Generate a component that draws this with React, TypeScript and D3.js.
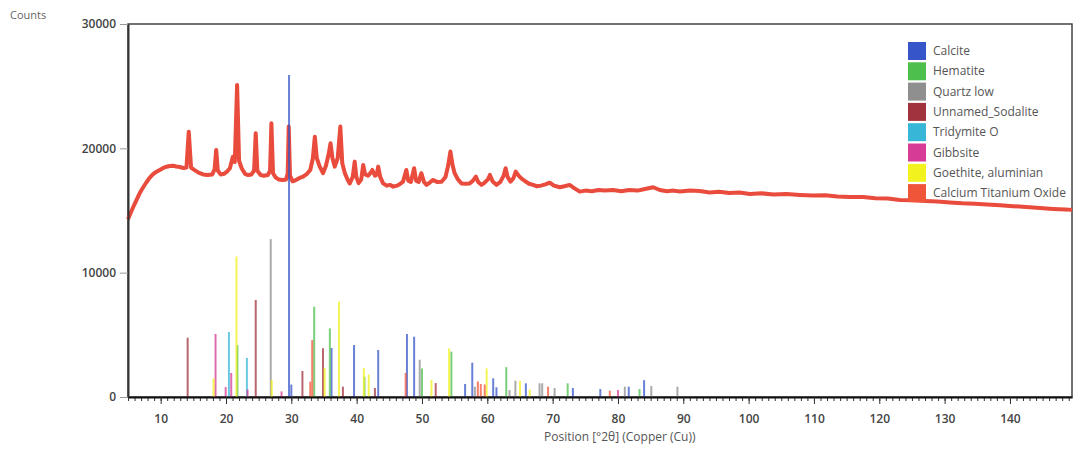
//@ts-nocheck
import React, { useRef, useEffect } from 'react'
import * as d3 from 'd3'

// measured scan (2θ, counts)
const scanPoints = [
  [5.0, 14300], [5.4, 14800], [5.9, 15400], [6.4, 15950], [6.8, 16400], [7.3, 16850], [7.8, 17250],
  [8.3, 17620], [8.8, 17900], [9.3, 18100], [9.85, 18260], [10.4, 18420], [10.9, 18520], [11.4, 18580],
  [11.9, 18600], [12.4, 18540], [12.9, 18500], [13.5, 18420], [13.95, 18450], [14.3, 21340], [14.65, 18450],
  [15.2, 18250], [15.8, 18050], [16.5, 17900], [17.2, 17850], [17.9, 17900], [18.25, 18300], [18.5, 19870],
  [18.75, 18200], [19.2, 17900], [19.7, 17950], [20.2, 18150], [20.6, 18400], [21.05, 19330], [21.35, 18900],
  [21.7, 25100], [22.0, 19000], [22.4, 18400], [22.9, 17950], [23.4, 17850], [23.9, 17900], [24.3, 18200],
  [24.55, 21210], [24.8, 18200], [25.3, 17850], [25.8, 17800], [26.4, 17850], [26.75, 18200], [26.95, 22020],
  [27.2, 18000], [27.6, 17650], [28.1, 17500], [28.7, 17450], [29.2, 17500], [29.45, 18000], [29.6, 21750],
  [29.8, 17800], [30.2, 17350], [30.7, 17450], [31.2, 17600], [31.8, 17720], [32.4, 17950], [32.9, 18260],
  [33.3, 19200], [33.6, 20940], [33.9, 19200], [34.35, 18530], [34.85, 18000], [35.3, 18600], [35.7, 19500],
  [36.0, 20410], [36.3, 19200], [36.65, 18530], [37.1, 19200], [37.5, 21750], [37.8, 18800], [38.2, 18000],
  [38.6, 17500], [38.95, 17180], [39.4, 17700], [39.7, 18930], [39.95, 17700], [40.3, 17200], [40.7, 17500],
  [41.0, 18660], [41.3, 17900], [41.75, 17800], [42.1, 18000], [42.4, 18260], [42.8, 17800], [43.1, 17900],
  [43.3, 18530], [43.6, 17700], [44.05, 17180], [44.6, 17000], [45.1, 17060], [45.6, 16920], [46.2, 17000],
  [46.7, 17150], [47.1, 17320], [47.6, 18260], [47.9, 17400], [48.3, 17300], [48.8, 18400], [49.1, 17400],
  [49.5, 17300], [49.9, 18000], [50.3, 17300], [50.7, 17060], [51.2, 17250], [51.7, 17460], [52.3, 17300],
  [53.0, 17320], [53.6, 17700], [54.0, 18600], [54.35, 19740], [54.7, 18600], [55.0, 18000], [55.5, 17500],
  [56.05, 17180], [56.7, 17150], [57.3, 17180], [57.8, 17400], [58.25, 17720], [58.6, 17300], [59.1, 17060],
  [59.6, 17250], [60.1, 17500], [60.4, 17860], [60.8, 17350], [61.4, 17060], [62.0, 17300], [62.5, 17800],
  [62.8, 18400], [63.1, 17700], [63.55, 17320], [64.0, 17600], [64.35, 18130], [64.8, 17800], [65.2, 17590],
  [65.8, 17350], [66.4, 17150], [67.0, 17060], [67.6, 16950], [68.2, 17000], [68.9, 17100], [69.55, 17240],
  [70.2, 17000], [71.1, 16870], [71.8, 16950], [72.6, 17060], [73.3, 16800], [74.15, 16520], [75.0, 16600],
  [76.0, 16550], [77.0, 16650], [78.0, 16600], [79.25, 16650], [80.5, 16550], [81.7, 16650], [83.0, 16600],
  [84.3, 16750], [85.4, 16870], [86.4, 16650], [87.5, 16550], [88.5, 16600], [89.5, 16520], [91.0, 16600],
  [92.5, 16560], [94.0, 16450], [95.5, 16500], [97.0, 16400], [98.6, 16450], [100.2, 16330], [102.0, 16380],
  [103.8, 16280], [105.8, 16320], [107.85, 16250], [109.8, 16200], [111.7, 16230], [113.6, 16120],
  [115.5, 16090], [117.5, 16080], [119.4, 15980], [121.3, 15960], [123.15, 15850], [125.0, 15820],
  [127.0, 15760], [128.9, 15720], [130.8, 15650], [132.7, 15580], [134.6, 15540], [136.5, 15480],
  [138.5, 15430], [140.5, 15350], [142.5, 15280], [144.6, 15200], [146.6, 15130], [148.5, 15080], [149.5, 15050]
]

const phaseNames = [
  'Calcite',
  'Hematite',
  'Quartz low',
  'Unnamed_Sodalite',
  'Tridymite O',
  'Gibbsite',
  'Goethite, aluminian',
  'Calcium Titanium Oxide'
]
const phaseColors = ['#3555c8', '#4dbf4d', '#8f8f8f', '#a1333f', '#38b6d8', '#d63c96', '#f2f21e', '#f0553a']

// reference sticks per phase: [2θ, counts]
const calciteSticks = [
  [29.65, 25900], [30.0, 1000], [36.15, 3940], [39.6, 4180], [43.3, 3780], [47.7, 5070], [48.8, 4850],
  [56.6, 1050], [57.7, 2760], [60.9, 1500], [61.4, 780], [65.9, 1100], [73.1, 720], [77.3, 640],
  [81.65, 830], [84.0, 1350]
]
const hematiteSticks = [
  [21.75, 4180], [33.5, 7260], [35.9, 5520], [41.2, 1630], [50.0, 2300], [54.5, 3650], [62.9, 2400],
  [72.3, 1100], [83.3, 640]
]
const quartzSticks = [
  [26.85, 12700], [49.65, 3000], [58.1, 830], [63.4, 560], [64.3, 1310], [68.0, 1100], [68.4, 1100],
  [70.3, 720], [81.05, 830], [85.1, 880], [89.1, 830]
]
const sodaliteSticks = [
  [14.13, 4770], [24.55, 7800], [31.7, 2090], [34.85, 3920], [37.9, 830], [42.8, 720], [52.1, 1120]
]
const tridymiteSticks = [[20.45, 5230], [23.2, 3140]]
const gibbsiteSticks = [[18.4, 5070], [19.95, 800], [20.8, 1930], [23.3, 600], [28.5, 450], [80.0, 560]]
const goethiteSticks = [
  [18.1, 1500], [21.6, 11300], [27.0, 1370], [35.1, 2330], [37.3, 7670], [41.1, 2330], [41.85, 1800],
  [51.45, 1370], [54.15, 3900], [59.9, 2300], [65.0, 1300], [66.5, 600]
]
const ctoSticks = [
  [32.9, 1230], [33.2, 4580], [47.5, 1930], [58.55, 1250], [59.0, 1050], [59.6, 1000], [69.3, 830],
  [78.75, 510]
]
const phaseSticks = [
  calciteSticks, hematiteSticks, quartzSticks, sodaliteSticks,
  tridymiteSticks, gibbsiteSticks, goethiteSticks, ctoSticks
]

const xTicks = [10, 20, 30, 40, 50, 60, 70, 80, 90, 100, 110, 120, 130, 140]
const yTicks = [0, 10000, 20000, 30000]

const W = 1075
const H = 450
const FONT = '"Open Sans", "DejaVu Sans", sans-serif'

const App = () => {
  const node = useRef(null)

  useEffect(() => {
    const svg = d3.select(node.current)
    svg.selectAll('*').remove()

    const margin = { top: 24, right: 3, bottom: 53, left: 128 }
    const x = d3.scaleLinear().domain([5, 149.5]).range([margin.left, W - margin.right])
    const y = d3.scaleLinear().domain([0, 30000]).range([H - margin.bottom, margin.top])

    svg.append('rect').attr('width', W).attr('height', H).attr('fill', '#fff')

    // frame
    svg
      .append('rect')
      .attr('x', margin.left)
      .attr('y', margin.top)
      .attr('width', W - margin.right - margin.left)
      .attr('height', H - margin.bottom - margin.top)
      .attr('fill', 'none')
      .attr('stroke', '#444')
      .attr('stroke-width', 1.5)

    // scan curve
    const line = d3
      .line()
      .x((d) => x(d[0]))
      .y((d) => y(d[1]))
    svg
      .append('path')
      .attr('d', line(scanPoints))
      .attr('fill', 'none')
      .attr('stroke', '#e94b3c')
      .attr('stroke-width', 4)
      .attr('stroke-linejoin', 'round')

    // reference sticks
    phaseSticks.forEach((sticks, i) => {
      svg
        .append('g')
        .selectAll('line')
        .data(sticks)
        .join('line')
        .attr('x1', (d) => x(d[0]))
        .attr('x2', (d) => x(d[0]))
        .attr('y1', y(0))
        .attr('y2', (d) => y(d[1]))
        .attr('stroke', phaseColors[i])
        .attr('stroke-width', 2)
        .attr('stroke-opacity', 0.75)
    })

    // x axis: minor ticks every degree, major every 10
    svg
      .append('g')
      .attr('transform', `translate(0,${y(0)})`)
      .call(d3.axisBottom(x).tickValues(d3.range(5, 150, 1)).tickSize(4).tickFormat(''))
      .call((g) => g.select('.domain').remove())
      .call((g) => g.selectAll('.tick line').attr('stroke', '#333'))
    svg
      .append('g')
      .attr('transform', `translate(0,${y(0)})`)
      .call(d3.axisBottom(x).tickValues(xTicks).tickSize(7).tickSizeOuter(0).tickPadding(10))
      .call((g) => g.select('.domain').attr('stroke', '#111').attr('stroke-width', 2))
      .call((g) => g.selectAll('.tick line').attr('stroke', '#333'))
      .call((g) =>
        g
          .selectAll('.tick text')
          .attr('font-family', FONT)
          .attr('font-size', 12)
          .attr('font-weight', 600)
          .attr('fill', '#444')
      )

    // y axis
    svg
      .append('g')
      .attr('transform', `translate(${margin.left},0)`)
      .call(
        d3
          .axisLeft(y)
          .tickValues(yTicks)
          .tickFormat(d3.format('d'))
          .tickSize(8)
          .tickSizeOuter(0)
          .tickPadding(4)
      )
      .call((g) => g.select('.domain').attr('stroke', '#333').attr('stroke-width', 2))
      .call((g) => g.selectAll('.tick line').attr('stroke', '#999'))
      .call((g) =>
        g
          .selectAll('.tick text')
          .attr('font-family', FONT)
          .attr('font-size', 12)
          .attr('font-weight', 600)
          .attr('fill', '#444')
      )

    svg
      .append('text')
      .attr('x', 10)
      .attr('y', 19)
      .attr('font-family', FONT)
      .attr('font-size', 11)
      .attr('fill', '#666')
      .text('Counts')

    svg
      .append('text')
      .attr('x', 544)
      .attr('y', 441)
      .attr('font-family', FONT)
      .attr('font-size', 12)
      .attr('fill', '#555')
      .text('Position [°2θ] (Copper (Cu))')

    // legend
    const legend = svg.append('g').attr('transform', 'translate(908,42)')
    const rows = legend
      .selectAll('g')
      .data(phaseNames)
      .join('g')
      .attr('transform', (d, i) => `translate(0,${i * 20.3})`)
    rows
      .append('rect')
      .attr('width', 18)
      .attr('height', 18)
      .attr('fill', (d, i) => phaseColors[i])
    rows
      .append('text')
      .attr('x', 25)
      .attr('y', 9)
      .attr('dy', '0.35em')
      .attr('font-family', FONT)
      .attr('font-size', 12)
      .attr('fill', '#555')
      .text((d) => d)
  }, [node])

  return (
    <svg
      ref={node}
      width={W}
      height={H}
      style={{ position: 'absolute', left: 0, top: 0, display: 'block' }}
    ></svg>
  )
}

export default App
